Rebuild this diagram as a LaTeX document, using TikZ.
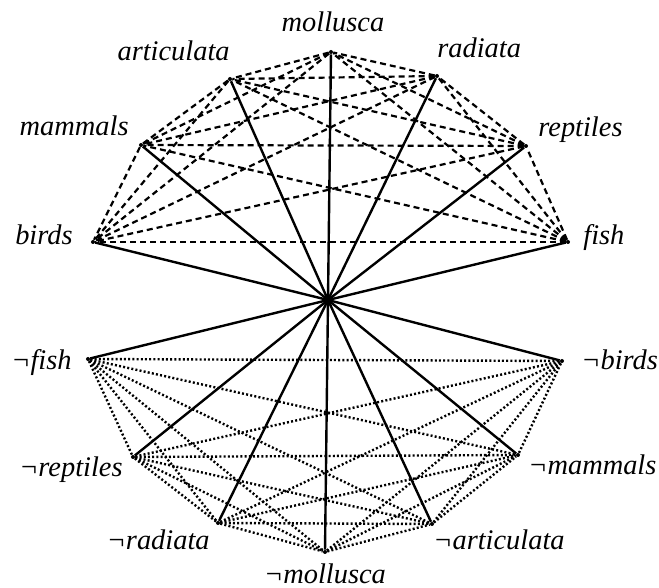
\documentclass[tikz,border=0pt]{standalone}
\usepackage{fontspec}
\setmainfont{Liberation Serif}
\usetikzlibrary{calc}

\begin{document}
\begin{tikzpicture}[x=0.5pt,y=0.5pt,
  dot/.style={circle,fill,inner sep=0pt,minimum size=2pt},
  lbl/.style={inner sep=0pt,font=\fontsize{14.2}{17}\selectfont\itshape},
  spoke/.style={line width=1.2pt},
  posedge/.style={line width=1.1pt,dash pattern=on 3pt off 2pt},
  negedge/.style={line width=1.2pt,dash pattern=on 1pt off 1.1pt}]
\useasboundingbox (-328,-288) rectangle (331,300);

% ---- hub ----
\coordinate (o) at (0,0);

% ---- positive terms ----
\node[dot] (fish) at (240,58) {};
\node[dot] (reptiles) at (198,154) {};
\node[dot] (radiata) at (109,224) {};
\node[dot] (mollusca) at (3,248) {};
\node[dot] (articulata) at (-98,221) {};
\node[dot] (mammals) at (-187,155) {};
\node[dot] (birds) at (-235,58) {};

% ---- negated terms ----
\node[dot] (nfish) at (-240,-59) {};
\node[dot] (nreptiles) at (-195,-157) {};
\node[dot] (nradiata) at (-110,-223) {};
\node[dot] (nmollusca) at (-3,-252) {};
\node[dot] (narticulata) at (104,-224) {};
\node[dot] (nmammals) at (190,-155) {};
\node[dot] (nbirds) at (234,-61) {};

% ---- labels ----
\node[lbl,anchor=base] (l-mollusca) at ([shift={(1pt,10pt)}]mollusca) {mollusca};
\node[lbl,anchor=base west] (l-radiata) at ([shift={(0pt,9pt)}]radiata) {radiata};
\node[lbl,anchor=base east] (l-articulata) at ([shift={(0pt,9pt)}]articulata) {articulata};
\node[lbl,anchor=base west] (l-reptiles) at ([shift={(6pt,4.5pt)}]reptiles) {reptiles};
\node[lbl,anchor=base east] (l-mammals) at ([shift={(-6pt,4.5pt)}]mammals) {mammals};
\node[lbl,anchor=base west] (l-fish) at ([shift={(7.5pt,-1.5pt)}]fish) {fish};
\node[lbl,anchor=base east] (l-birds) at ([shift={(-10pt,-1.5pt)}]birds) {birds};
\node[lbl,anchor=base east] (l-nfish) at ([shift={(-8pt,-5.5pt)}]nfish) {¬fish};
\node[lbl,anchor=base west] (l-nbirds) at ([shift={(9.5pt,-4.5pt)}]nbirds) {¬birds};
\node[lbl,anchor=base east] (l-nreptiles) at ([shift={(-5pt,-10pt)}]nreptiles) {¬reptiles};
\node[lbl,anchor=base west] (l-nmammals) at ([shift={(5pt,-10pt)}]nmammals) {¬mammals};
\node[lbl,anchor=base east] (l-nradiata) at ([shift={(-4pt,-13.5pt)}]nradiata) {¬radiata};
\node[lbl,anchor=base west] (l-narticulata) at ([shift={(0.5pt,-13pt)}]narticulata) {¬articulata};
\node[lbl,anchor=base] (l-nmollusca) at ([shift={(0pt,-16pt)}]nmollusca) {¬mollusca};

% ---- upper clique (dashed) ----
\foreach \a/\rest in {fish/{reptiles,radiata,mollusca,articulata,mammals,birds},
                      reptiles/{radiata,mollusca,articulata,mammals,birds},
                      radiata/{mollusca,articulata,mammals,birds},
                      mollusca/{articulata,mammals,birds},
                      articulata/{mammals,birds},
                      mammals/{birds}}
  \foreach \b in \rest \draw[posedge] (\a) -- (\b);

% ---- lower clique (dotted) ----
\foreach \a/\rest in {nfish/{nreptiles,nradiata,nmollusca,narticulata,nmammals,nbirds},
                      nreptiles/{nradiata,nmollusca,narticulata,nmammals,nbirds},
                      nradiata/{nmollusca,narticulata,nmammals,nbirds},
                      nmollusca/{narticulata,nmammals,nbirds},
                      narticulata/{nmammals,nbirds},
                      nmammals/{nbirds}}
  \foreach \b in \rest \draw[negedge] (\a) -- (\b);

% ---- spokes ----
\foreach \p in {fish,reptiles,radiata,mollusca,articulata,mammals,birds,
                nfish,nreptiles,nradiata,nmollusca,narticulata,nmammals,nbirds}
  \draw[spoke] (o) -- (\p);
\end{tikzpicture}
\end{document}
